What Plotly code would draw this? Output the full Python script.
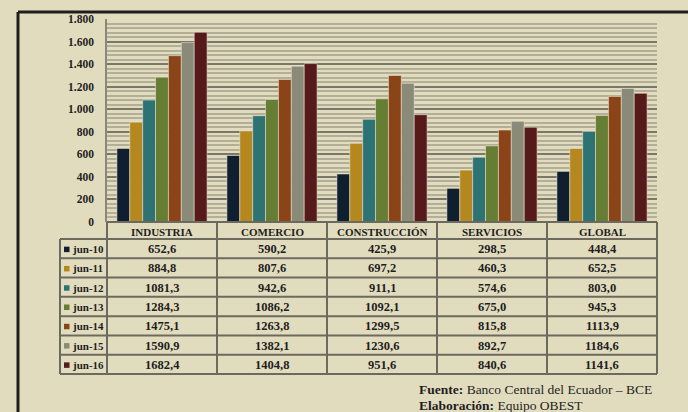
import plotly.graph_objects as go

# ---------------- data ----------------
categories = ["INDUSTRIA", "COMERCIO", "CONSTRUCCIÓN", "SERVICIOS", "GLOBAL"]
series_names = ["jun-10", "jun-11", "jun-12", "jun-13", "jun-14", "jun-15", "jun-16"]
jun_10 = [652.6, 590.2, 425.9, 298.5, 448.4]
jun_11 = [884.8, 807.6, 697.2, 460.3, 652.5]
jun_12 = [1081.3, 942.6, 911.1, 574.6, 803.0]
jun_13 = [1284.3, 1086.2, 1092.1, 675.0, 945.3]
jun_14 = [1475.1, 1263.8, 1299.5, 815.8, 1113.9]
jun_15 = [1590.9, 1382.1, 1230.6, 892.7, 1184.6]
jun_16 = [1682.4, 1404.8, 951.6, 840.6, 1141.6]
series_values = [jun_10, jun_11, jun_12, jun_13, jun_14, jun_15, jun_16]
y_tick_vals = [0, 200, 400, 600, 800, 1000, 1200, 1400, 1600, 1800]
y_tick_text = ["0", "200", "400", "600", "800", "1.000", "1.200", "1.400", "1.600", "1.800"]
source_label = "Fuente:"
source_text = "Banco Central del Ecuador – BCE"
credit_label = "Elaboración:"
credit_text = "Equipo OBEST"

# ---------------- style ----------------
colors = ["#0f1f2f", "#b5871f", "#2e7373", "#667d34", "#8a4418", "#8a8a78", "#561a1b"]
BG = "#e2dcbe"
LINE = "#6c6a5e"
FONT = "Liberation Serif"

# plot area in pixels
L, R, T, B = 107, 657, 19, 222
W, H = R - L, B - T


def px(x):
    return (x - L) / W


def py(y):
    return (B - y) / H


fig = go.Figure()
for name, vals, col in zip(series_names, series_values, colors):
    fig.add_trace(go.Bar(
        x=categories, y=vals, name=name,
        marker=dict(color=col, line=dict(color="rgba(235,230,210,0.55)", width=1)),
        showlegend=False,
    ))

shapes = []
annotations = []

# outer frame (top + left)
shapes.append(dict(type="line", xref="paper", yref="paper", x0=px(18), x1=px(700),
                   y0=py(12), y1=py(12), line=dict(color="#1e1e1e", width=3)))
shapes.append(dict(type="line", xref="paper", yref="paper", x0=px(18), x1=px(18),
                   y0=py(12), y1=py(420), line=dict(color="#1e1e1e", width=3)))

# table geometry
n = len(categories)
col_w = W / n
head_top, head_bot = 222, 239
tab_bot = 374
row_h = (tab_bot - head_bot) / len(series_names)
left_x = 60

# horizontal lines
shapes.append(dict(type="line", xref="paper", yref="paper", x0=px(L), x1=px(R),
                   y0=py(head_top), y1=py(head_top), line=dict(color=LINE, width=2)))
for i in range(len(series_names) + 1):
    yy = head_bot + i * row_h
    shapes.append(dict(type="line", xref="paper", yref="paper", x0=px(left_x), x1=px(R),
                       y0=py(yy), y1=py(yy), line=dict(color=LINE, width=2)))
# vertical lines
shapes.append(dict(type="line", xref="paper", yref="paper", x0=px(left_x), x1=px(left_x),
                   y0=py(head_bot), y1=py(tab_bot), line=dict(color=LINE, width=2)))
for j in range(n + 1):
    xx = L + j * col_w
    shapes.append(dict(type="line", xref="paper", yref="paper", x0=px(xx), x1=px(xx),
                       y0=py(head_top), y1=py(tab_bot), line=dict(color=LINE, width=2)))

# header labels
for j, cat in enumerate(categories):
    annotations.append(dict(xref="paper", yref="paper", x=px(L + (j + 0.5) * col_w),
                            y=py((head_top + head_bot) / 2 + 1), text="<b>" + cat + "</b>",
                            showarrow=False, xanchor="center", yanchor="middle",
                            font=dict(family=FONT, size=11, color="#1e1e1e")))

# rows
for i, (name, vals, col) in enumerate(zip(series_names, series_values, colors)):
    yc = head_bot + (i + 0.5) * row_h + 0.5
    shapes.append(dict(type="rect", xref="paper", yref="paper", x0=px(64), x1=px(69.5),
                       y0=py(yc + 3), y1=py(yc - 2.5), fillcolor=col, line=dict(width=0)))
    annotations.append(dict(xref="paper", yref="paper", x=px(70), y=py(yc),
                            text="<b>" + name + "</b>", showarrow=False,
                            xanchor="left", yanchor="middle",
                            font=dict(family=FONT, size=11, color="#1e1e1e")))
    for j, v in enumerate(vals):
        annotations.append(dict(xref="paper", yref="paper", x=px(L + (j + 0.5) * col_w), y=py(yc),
                                text="<b>" + f"{v:.1f}".replace(".", ",") + "</b>",
                                showarrow=False, xanchor="center", yanchor="middle",
                                font=dict(family=FONT, size=12.5, color="#1e1e1e")))

# footer
annotations.append(dict(xref="paper", yref="paper", x=px(417), y=py(389.5),
                        text="<b>" + source_label + "</b> " + source_text, showarrow=False,
                        xanchor="left", yanchor="middle",
                        font=dict(family=FONT, size=13.5, color="#1e1e1e")))
annotations.append(dict(xref="paper", yref="paper", x=px(417), y=py(405),
                        text="<b>" + credit_label + "</b> " + credit_text, showarrow=False,
                        xanchor="left", yanchor="middle",
                        font=dict(family=FONT, size=13.5, color="#1e1e1e")))

fig.update_layout(
    width=688, height=412,
    margin=dict(l=L, r=688 - R, t=T, b=412 - B, pad=0),
    paper_bgcolor=BG, plot_bgcolor=BG,
    barmode="group", bargap=0.18, bargroupgap=0,
    font=dict(family=FONT, color="#1e1e1e"),
    shapes=shapes, annotations=annotations,
    xaxis=dict(range=[-0.5, n - 0.5], showticklabels=False, showgrid=False,
               zeroline=False, showline=False, ticks=""),
    yaxis=dict(range=[0, 1800], tickvals=y_tick_vals,
               ticktext=["<b>" + t + "</b>" for t in y_tick_text],
               tickfont=dict(family=FONT, size=11.5, color="#1e1e1e"),
               showgrid=True, gridcolor="#7a786a", gridwidth=1.5,
               minor=dict(dtick=40, showgrid=True, gridcolor="#b3ae98", gridwidth=2),
               zeroline=False, showline=True, linecolor="#8a8878", linewidth=1.5,
               ticks="", ticklabelstandoff=9),
)

fig.write_html(
    "out.html",
    config={"displayModeBar": False},
    post_script="document.body.style.margin='0';document.body.style.overflow='hidden';"
                "document.body.style.background='" + BG + "';",
)
